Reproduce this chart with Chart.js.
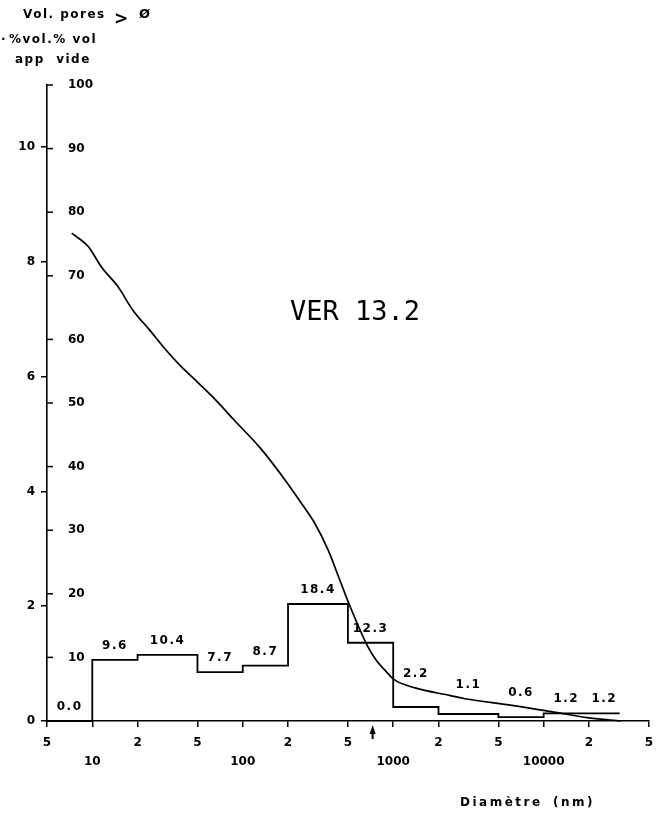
<!DOCTYPE html>
<html>
<head>
<meta charset="utf-8">
<script src="https://cdn.jsdelivr.net/npm/chart.js@4"></script>
<style>
  html, body { margin: 0; padding: 0; background: #fff; }
</style>
</head>
<body>
<canvas id="poreChart" width="659" height="824"></canvas>
<script>
// bornes des classes de diamètre (nm)
const binEdges = [5, 10, 20, 50, 100, 200, 500, 1000, 2000, 5000, 10000, 20000, 32000];
// % vol vide par classe
const binValues = [0.0, 9.6, 10.4, 7.7, 8.7, 18.4, 12.3, 2.2, 1.1, 0.6, 1.2, 1.2];
const binLabels = ['0.0', '9.6', '10.4', '7.7', '8.7', '18.4', '12.3', '2.2', '1.1', '0.6', '1.2', '1.2'];

// courbe cumulée : vol. pores > diamètre (% vol vide)
const curveDiam = [7.3, 9.4, 11.5, 14.8, 18.6, 24, 31, 38, 51, 66, 87, 131, 191, 246, 301, 369, 441, 513, 678, 769, 880, 1016, 1400, 2400, 3000, 6000, 11000, 20000, 32600];
const curveVol = [76.7, 74.6, 71.4, 68.3, 64.6, 61.5, 58.3, 56.0, 53.1, 50.5, 47.4, 42.9, 37.9, 34.2, 31.1, 26.9, 22.2, 18.2, 11.7, 9.6, 8.0, 6.5, 5.2, 4.0, 3.5, 2.5, 1.5, 0.5, 0];

// flèche sous l'axe
const markerDiam = 730;

const xTicks = [5, 10, 20, 50, 100, 200, 500, 1000, 2000, 5000, 10000, 20000, 50000];
const videTicks = [10, 20, 30, 40, 50, 60, 70, 80, 90, 100];
const appTicks = [0, 2, 4, 6, 8, 10];
const appMax = 11.08;   // 10 % vol app = 90.2 % vol vide

const INK = '#000';
const FONT = '"DejaVu Sans", sans-serif';

function isDecade(v) {
    const l = Math.log10(v);
    return Math.abs(l - Math.round(l)) < 1e-9;
}

function curveAt(d) {
    for (let i = 0; i < curveDiam.length - 1; i++) {
        if (d >= curveDiam[i] && d <= curveDiam[i + 1]) {
            const t = (Math.log(d) - Math.log(curveDiam[i])) / (Math.log(curveDiam[i + 1]) - Math.log(curveDiam[i]));
            return curveVol[i] + t * (curveVol[i + 1] - curveVol[i]);
        }
    }
    return null;
}

const annotations = {
    id: 'annotations',
    afterDraw(chart) {
        const { ctx, scales: { x, y } } = chart;
        ctx.save();
        ctx.strokeStyle = INK;
        ctx.fillStyle = INK;
        ctx.lineWidth = 1.5;

        // graduations intérieures (% vol vide)
        y.ticks.forEach(t => {
            const py = y.getPixelForValue(t.value);
            ctx.beginPath();
            ctx.moveTo(x.left, py);
            ctx.lineTo(x.left + 6, py);
            ctx.stroke();
        });

        // valeurs des classes
        ctx.font = 'bold 12px ' + FONT;
        ctx.letterSpacing = '1.5px';
        ctx.textAlign = 'center';
        ctx.textBaseline = 'middle';
        binValues.forEach((v, i) => {
            const mid = Math.sqrt(binEdges[i] * binEdges[i + 1]);
            let top = v;
            const c = curveAt(mid);
            if (c !== null && c > v && c - v < 6) top = c;
            ctx.fillText(binLabels[i], x.getPixelForValue(mid), y.getPixelForValue(top) - 14);
        });

        // flèche
        const ax = x.getPixelForValue(markerDiam);
        const ay = x.top + 4;
        ctx.beginPath();
        ctx.moveTo(ax, ay);
        ctx.lineTo(ax - 3, ay + 9);
        ctx.lineTo(ax + 3, ay + 9);
        ctx.closePath();
        ctx.fill();
        ctx.fillRect(ax - 1, ay + 8, 2, 6);

        // en-tête des axes
        ctx.textAlign = 'left';
        ctx.font = 'bold 12px ' + FONT;
        ctx.letterSpacing = '1.5px';
        ctx.fillText('Vol. pores', 23, 15);
        ctx.fillText('%vol.% vol', 9, 40);
        ctx.fillText('·', 1, 40);
        ctx.fillText('app  vide', 15, 60);
        ctx.font = 'bold 13px ' + FONT;
        ctx.fillText('Ø', 139, 15);
        ctx.font = 'bold 17px ' + FONT;
        ctx.fillText('>', 114, 20);

        // titre de l'axe x
        ctx.font = 'bold 12px ' + FONT;
        ctx.letterSpacing = '2.5px';
        ctx.fillText('Diamètre', 460, 803);
        ctx.fillText('(nm)', 553, 803);

        // échantillon
        ctx.letterSpacing = '0px';
        ctx.font = '27px "DejaVu Sans Mono", monospace';
        ctx.textAlign = 'center';
        ctx.textBaseline = 'alphabetic';
        ctx.fillText('VER 13.2', 355, 320);
        ctx.restore();
    }
};

const stepPoints = binEdges.map((e, i) => ({ x: e, y: binValues[Math.max(i - 1, 0)] }));
const curvePoints = curveDiam.map((d, i) => ({ x: d, y: curveVol[i] }));

new Chart(document.getElementById('poreChart').getContext('2d'), {
    type: 'line',
    data: {
        datasets: [
            {
                label: 'Vol. pores > ø',
                data: curvePoints,
                yAxisID: 'y',
                borderColor: INK,
                borderWidth: 1.7,
                pointRadius: 0,
                cubicInterpolationMode: 'monotone',
                clip: false
            },
            {
                label: 'classes',
                data: stepPoints,
                yAxisID: 'y',
                stepped: 'after',
                borderColor: INK,
                borderWidth: 1.8,
                pointRadius: 0,
                clip: false
            }
        ]
    },
    options: {
        responsive: false,
        animation: false,
        devicePixelRatio: 1,
        layout: { padding: { top: 85, right: 6, bottom: 0, left: 0 } },
        plugins: { legend: { display: false }, tooltip: { enabled: false } },
        scales: {
            x: {
                type: 'logarithmic',
                position: 'bottom',
                min: 5,
                max: 50000,
                afterBuildTicks: s => { s.ticks = xTicks.map(v => ({ value: v })); },
                afterFit: s => { s.height = 103; },
                ticks: {
                    autoSkip: false,
                    maxRotation: 0,
                    padding: 6,
                    color: INK,
                    font: { family: FONT, size: 12, weight: 'bold', lineHeight: 1.6 },
                    callback: v => isDecade(v) ? ['', String(v)] : [String(Math.round(v / Math.pow(10, Math.floor(Math.log10(v)))))]
                },
                grid: { drawOnChartArea: false, tickLength: 6, color: INK, lineWidth: 1.5 },
                border: { color: INK, width: 1.6 }
            },
            y: {
                type: 'linear',
                position: 'left',
                weight: 0,
                min: 0,
                max: 100,
                afterBuildTicks: s => { s.ticks = videTicks.map(v => ({ value: v })); },
                afterFit: s => { s.width = 0; },
                ticks: {
                    mirror: true,
                    padding: 21,
                    color: INK,
                    font: { family: FONT, size: 12, weight: 'bold' }
                },
                grid: { drawOnChartArea: false, drawTicks: false },
                border: { display: false }
            },
            y2: {
                type: 'linear',
                position: 'left',
                weight: 1,
                min: 0,
                max: appMax,
                afterBuildTicks: s => { s.ticks = appTicks.map(v => ({ value: v })); },
                afterFit: s => { s.width = 47; },
                ticks: {
                    padding: 6,
                    color: INK,
                    font: { family: FONT, size: 12, weight: 'bold' }
                },
                grid: { drawOnChartArea: false, tickLength: 6, color: INK, lineWidth: 1.5 },
                border: { color: INK, width: 1.6 }
            }
        }
    },
    plugins: [annotations]
});
</script>
</body>
</html>
